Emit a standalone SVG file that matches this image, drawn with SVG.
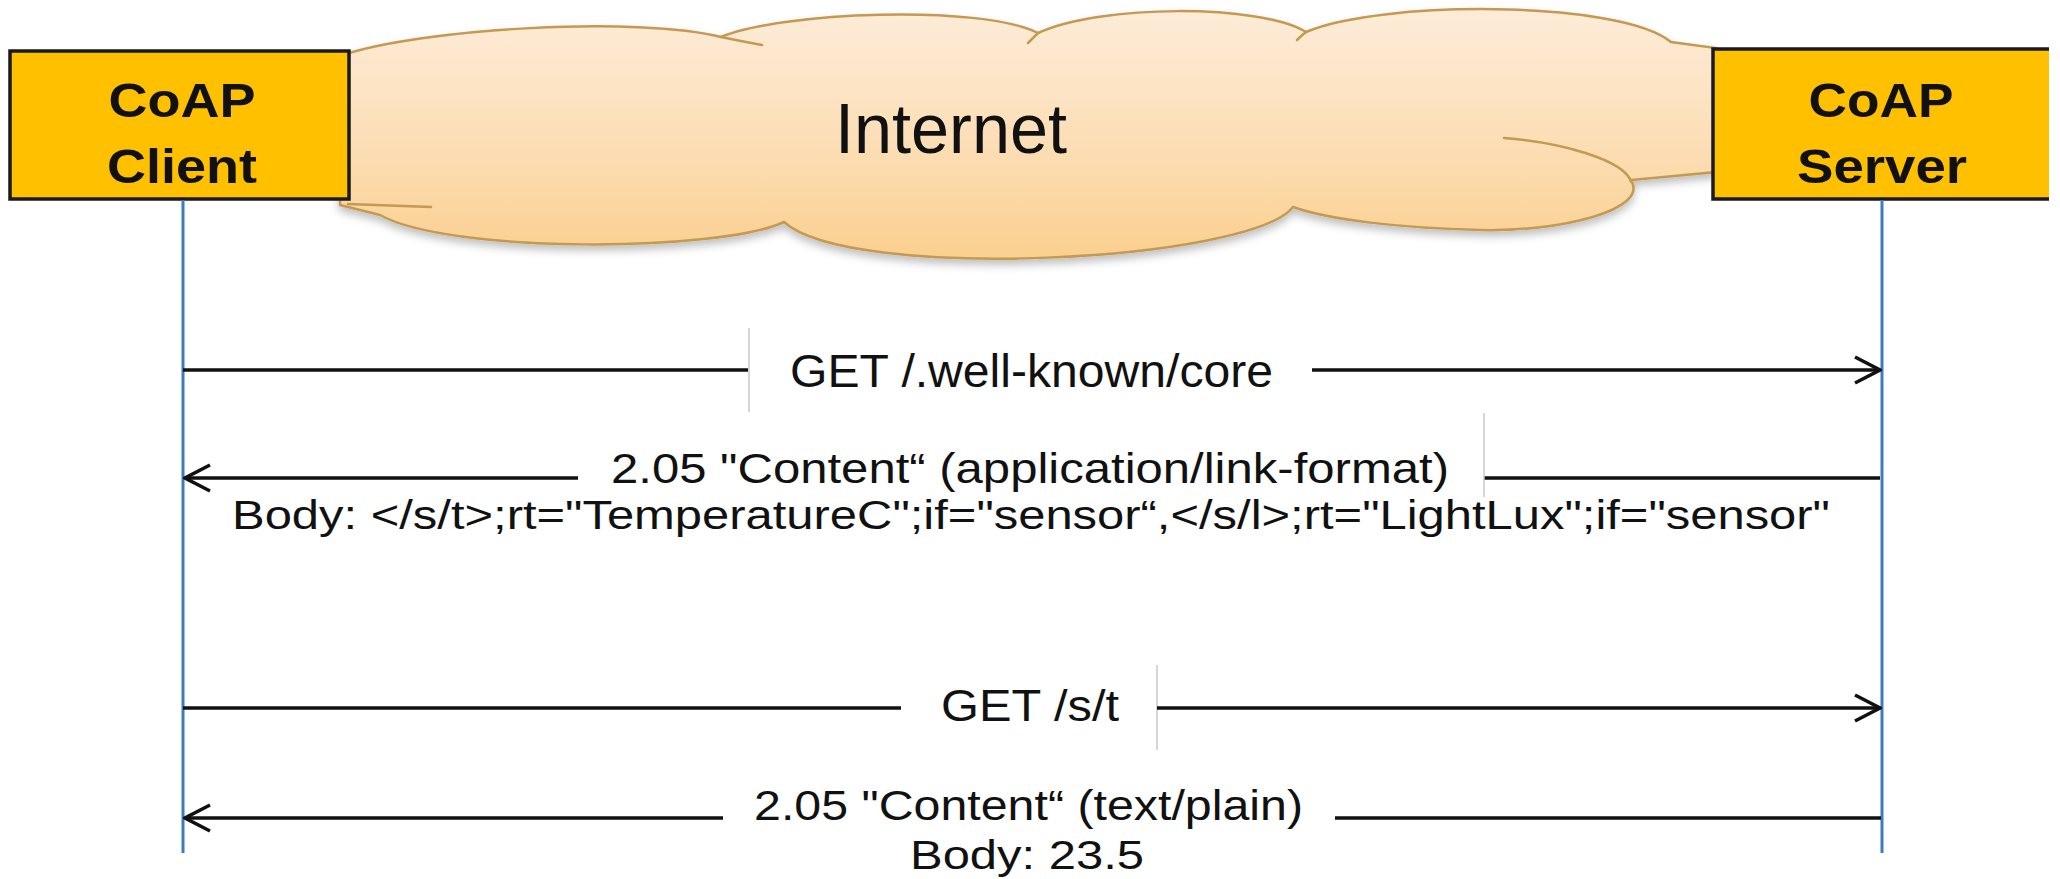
<svg xmlns="http://www.w3.org/2000/svg" width="2060" height="879" viewBox="0 0 2060 879">
  <style>
    .lbl { font-family: "Liberation Sans", Arial, sans-serif; fill: #111; }
    .node { font-family: "Liberation Sans", Arial, sans-serif; font-weight: bold; font-size: 48px; fill: #111; text-anchor: middle; }
    .box { fill: #ffc000; stroke: #1a1a1a; stroke-width: 3.5; }
    .life { stroke: #3d7cc0; stroke-width: 3; fill: none; }
    .msg { stroke: #111; stroke-width: 3.5; fill: none; }
    .tick { stroke: #c9c9c9; stroke-width: 1.5; fill: none; }
    .cloud-edge { stroke: #c49a52; stroke-width: 2.5; fill: none; stroke-linecap: round; }
  </style>
  <defs>
    <linearGradient id="cloudFill" x1="0" y1="0" x2="0" y2="1">
      <stop offset="0" stop-color="#fdecd9"/>
      <stop offset="0.55" stop-color="#fcdeb5"/>
      <stop offset="1" stop-color="#fbcf8f"/>
    </linearGradient>
    <filter id="cloudShadow" x="-5%" y="-20%" width="110%" height="150%">
      <feDropShadow dx="0" dy="5" stdDeviation="4" flood-color="#000" flood-opacity="0.25"/>
    </filter>
    <marker id="arrow" viewBox="0 0 30 30" markerUnits="userSpaceOnUse" markerWidth="30" markerHeight="30" refX="28" refY="15" orient="auto">
      <path d="M3,2 L28,15 L3,28" fill="none" stroke="#111" stroke-width="3.5" stroke-linejoin="miter"/>
    </marker>
  </defs>

  <rect width="2060" height="879" fill="#ffffff"/>

  <!-- Internet cloud -->
  <g id="internet">
    <path filter="url(#cloudShadow)" fill="url(#cloudFill)" stroke="#c49a52" stroke-width="2.5"
      d="M 340,56
         C 420,28 640,16 721,37
         C 780,12 980,4 1038,33
         C 1100,4 1260,4 1306,32
         C 1380,0 1620,0 1671,42
         L 1716,48 L 1716,172 L 1631,180
         C 1650,210 1560,232 1480,230
         C 1400,228 1330,220 1293,207
         C 1250,262 850,282 784,222
         C 720,252 450,254 380,215
         L 340,205 Z"/>
    <path class="cloud-edge" d="M 1504,138 C 1560,142 1625,160 1631,182"/>
    <path class="cloud-edge" d="M 348,204 Q 400,206 431,207"/>
    <path class="cloud-edge" d="M 721,37 Q 740,41 762,45"/>
    <path class="cloud-edge" d="M 1038,33 Q 1033,38 1028,43"/>
    <path class="cloud-edge" d="M 1306,32 Q 1301,36 1297,40"/>
    <text class="lbl" x="951" y="153" font-size="70" text-anchor="middle" textLength="232" lengthAdjust="spacingAndGlyphs">Internet</text>
  </g>

  <!-- CoAP Client -->
  <g id="client">
    <rect class="box" x="10" y="51" width="339" height="148"/>
    <text class="node" x="182" y="117" textLength="147" lengthAdjust="spacingAndGlyphs">CoAP</text>
    <text class="node" x="182" y="183" textLength="150" lengthAdjust="spacingAndGlyphs">Client</text>
  </g>

  <!-- CoAP Server (box runs to the right edge) -->
  <g id="server">
    <rect x="1713" y="49" width="336" height="150" fill="#ffc000"/>
    <path d="M 2049,49 L 1713,49 L 1713,199 L 2049,199" fill="none" stroke="#1a1a1a" stroke-width="3.5"/>
    <text class="node" x="1881" y="117" textLength="145" lengthAdjust="spacingAndGlyphs">CoAP</text>
    <text class="node" x="1882" y="183" textLength="170" lengthAdjust="spacingAndGlyphs">Server</text>
  </g>

  <!-- Lifelines and messages -->
  <g id="connectors">
    <line class="life" x1="183" y1="200" x2="183" y2="853"/>
    <line class="life" x1="1882" y1="200" x2="1882" y2="853"/>

    <!-- GET /.well-known/core -->
    <line class="msg" x1="183" y1="370" x2="748" y2="370"/>
    <line class="tick" x1="749" y1="328" x2="749" y2="412"/>
    <line class="msg" x1="1312" y1="370" x2="1880" y2="370" marker-end="url(#arrow)"/>

    <!-- 2.05 Content (link-format) -->
    <line class="msg" x1="1880" y1="478" x2="1484" y2="478"/>
    <line class="tick" x1="1484" y1="413" x2="1484" y2="497"/>
    <line class="msg" x1="578" y1="478" x2="185" y2="478" marker-end="url(#arrow)"/>

    <!-- GET /s/t -->
    <line class="msg" x1="183" y1="708" x2="901" y2="708"/>
    <line class="tick" x1="1157" y1="665" x2="1157" y2="750"/>
    <line class="msg" x1="1157" y1="708" x2="1880" y2="708" marker-end="url(#arrow)"/>

    <!-- 2.05 Content (text/plain) -->
    <line class="msg" x1="1881" y1="818" x2="1335" y2="818"/>
    <line class="msg" x1="723" y1="818" x2="185" y2="818" marker-end="url(#arrow)"/>
  </g>

  <!-- Message labels -->
  <g id="labels">
    <text class="lbl" x="790" y="387" font-size="47" textLength="483" lengthAdjust="spacingAndGlyphs">GET /.well-known/core</text>
    <text class="lbl" x="611" y="483" font-size="42" textLength="838" lengthAdjust="spacingAndGlyphs">2.05 "Content“ (application/link-format)</text>
    <text class="lbl" x="232" y="529" font-size="40" textLength="1598" lengthAdjust="spacingAndGlyphs">Body: &lt;/s/t&gt;;rt="TemperatureC";if="sensor“,&lt;/s/l&gt;;rt="LightLux";if="sensor"</text>
    <text class="lbl" x="941" y="721" font-size="44" textLength="178" lengthAdjust="spacingAndGlyphs">GET /s/t</text>
    <text class="lbl" x="754" y="820" font-size="42" textLength="549" lengthAdjust="spacingAndGlyphs">2.05 "Content“ (text/plain)</text>
    <text class="lbl" x="910" y="869" font-size="40" textLength="234" lengthAdjust="spacingAndGlyphs">Body: 23.5</text>
  </g>
</svg>
